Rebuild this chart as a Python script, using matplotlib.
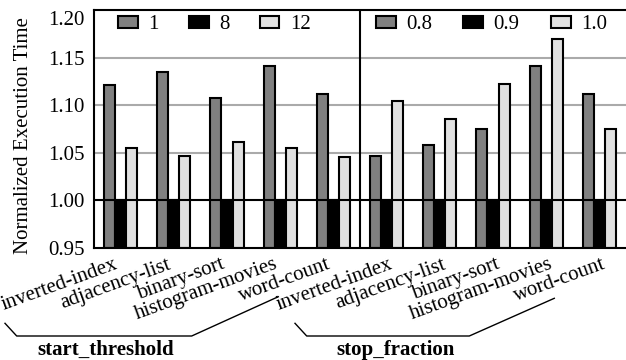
import matplotlib
matplotlib.use("Agg")
import matplotlib.pyplot as plt
import matplotlib.transforms as mtransforms
from matplotlib.lines import Line2D
from matplotlib.patches import Patch
import numpy as np

plt.rcParams['font.family'] = 'serif'
plt.rcParams['font.serif'] = ['Liberation Serif', 'DejaVu Serif']
plt.rcParams['font.size'] = 15

benchmarks = ["inverted-index", "adjacency-list", "binary-sort", "histogram-movies", "word-count"]
groups = ["start_threshold", "stop_fraction"]

# start_threshold series
st_labels = ["1", "8", "12"]
st_1 = [1.121, 1.135, 1.108, 1.141, 1.112]
st_8 = [1.000, 1.000, 1.000, 1.000, 1.000]
st_12 = [1.055, 1.047, 1.061, 1.055, 1.046]

# stop_fraction series
sf_labels = ["0.8", "0.9", "1.0"]
sf_08 = [1.047, 1.058, 1.075, 1.141, 1.112]
sf_09 = [1.000, 1.000, 1.000, 1.000, 1.000]
sf_10 = [1.104, 1.085, 1.122, 1.170, 1.075]

yticks = [0.95, 1.00, 1.05, 1.10, 1.15, 1.20]

colors = ["#808080", "#000000", "#e0e0e0"]
base = 0.95
W, H = 626, 360

fig = plt.figure(figsize=(W / 100, H / 100), dpi=100)
ax = fig.add_axes([94 / W, 1 - 248 / H, (W - 94) / W, (248 - 10) / H])

n = len(benchmarks)
x_left = np.arange(n)
x_right = np.arange(n) + n
bw = 0.207

series_left = [st_1, st_8, st_12]
series_right = [sf_08, sf_09, sf_10]
for k in range(3):
    off = (k - 1) * bw
    ax.bar(x_left + off, np.array(series_left[k]) - base, bw, bottom=base,
           color=colors[k], edgecolor="black", linewidth=1.5, zorder=2)
    ax.bar(x_right + off, np.array(series_right[k]) - base, bw, bottom=base,
           color=colors[k], edgecolor="black", linewidth=1.5, zorder=2)

ax.set_xlim(-0.5, 2 * n - 0.5)
ax.set_ylim(0.95, 1.20)
ax.set_yticks(yticks)
ax.set_yticklabels([f"{v:.2f}" for v in yticks])
for v in [1.05, 1.10, 1.15]:
    ax.axhline(v, color="#aaaaaa", linewidth=1.5, zorder=1)
ax.axhline(1.00, color="black", linewidth=1.5, zorder=3)
ax.axvline(n - 0.5, color="black", linewidth=1.5, zorder=3)

ax.set_xticks(np.concatenate([x_left, x_right]))
ax.set_xticklabels(benchmarks + benchmarks, rotation=20, ha="right", va="top")
ax.tick_params(axis="both", length=0)
ax.tick_params(axis="y", pad=7)
ax.tick_params(axis="x", pad=5)

# shift right group labels a bit, 1.20 label down
for i, lab in enumerate(ax.get_xticklabels()):
    if i >= n:
        lab.set_transform(lab.get_transform() + mtransforms.ScaledTranslation(0.09, 0, fig.dpi_scale_trans))
ylabs = ax.get_yticklabels()
ylabs[-1].set_transform(ylabs[-1].get_transform() + mtransforms.ScaledTranslation(0, -0.08, fig.dpi_scale_trans))

for s in ["left", "top", "bottom"]:
    ax.spines[s].set_linewidth(1.5)
ax.spines["right"].set_visible(False)

def make_handles(labels):
    return [Patch(facecolor=colors[k], edgecolor="black", linewidth=1.5, label=labels[k]) for k in range(3)]

leg1 = ax.legend(handles=make_handles(st_labels), loc="upper left",
                 bbox_to_anchor=((118 - 94) / (W - 94), 1 - 5 / 238), ncol=3, frameon=False,
                 borderpad=0, borderaxespad=0, handlelength=0.95, handleheight=0.5,
                 handletextpad=0.5, columnspacing=1.45)
ax.add_artist(leg1)
leg2 = ax.legend(handles=make_handles(sf_labels), loc="upper left",
                 bbox_to_anchor=((376 - 94) / (W - 94), 1 - 5 / 238), ncol=3, frameon=False,
                 borderpad=0, borderaxespad=0, handlelength=0.95, handleheight=0.5,
                 handletextpad=0.5, columnspacing=1.5)

fig.text(24 / W, 1 - 136 / H, "Normalized Execution Time", rotation=90,
         ha="center", va="center", fontsize=15)

def px_line(pts):
    xs = [p[0] / W for p in pts]
    ys = [1 - p[1] / H for p in pts]
    fig.add_artist(Line2D(xs, ys, color="black", linewidth=1.0, transform=fig.transFigure))

px_line([(5, 323.3), (16.7, 336), (191.7, 336), (278.3, 296.7)])
px_line([(295, 323.3), (306.7, 336), (469.3, 336), (554.3, 298.3)])
fig.text(106 / W, 1 - 350 / H, groups[0], ha="center", va="center", fontsize=15, fontweight="bold")
fig.text(396 / W, 1 - 350 / H, groups[1], ha="center", va="center", fontsize=15, fontweight="bold")

fig.savefig("out.png", dpi=100)
